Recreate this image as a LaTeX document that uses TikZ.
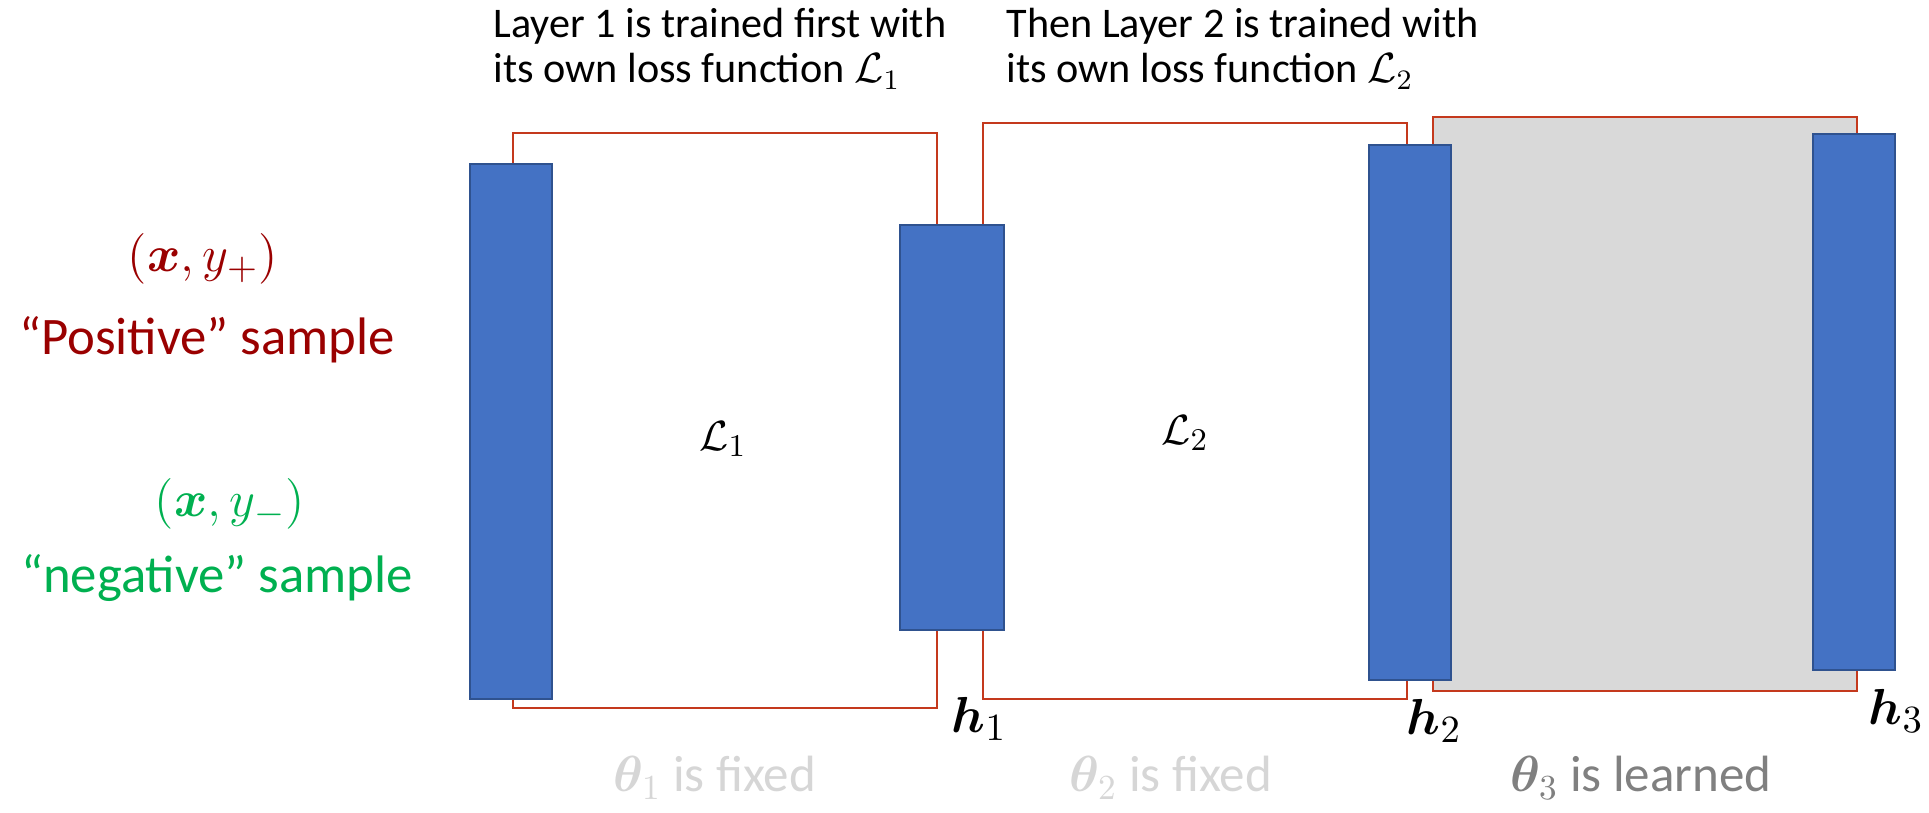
\documentclass[tikz,border=0pt]{standalone}
\usepackage{fontspec}
\setmainfont{Carlito}
\usepackage{amsmath,bm}
\definecolor{boxblue}{HTML}{4472C4}
\definecolor{boxedge}{HTML}{2F528F}
\definecolor{framered}{HTML}{C4391D}
\definecolor{learngray}{HTML}{D9D9D9}
\definecolor{posred}{HTML}{9A0000}
\definecolor{neggreen}{HTML}{00B050}
\definecolor{fixedgray}{HTML}{D6D6D6}
\definecolor{learnedtext}{HTML}{808080}
\tikzset{
  layerbar/.style={draw=boxedge, fill=boxblue, line width=0.6pt},
  lossframe/.style={draw=framered, line width=0.7pt},
  note/.style={font=\fontsize{12}{13}\selectfont, align=left, anchor=base west, inner sep=0pt},
  sample/.style={font=\fontsize{15}{18}\selectfont, anchor=base, inner sep=0pt},
  hidden/.style={font=\fontsize{15}{18}\selectfont, anchor=base west, inner sep=0pt},
  status/.style={font=\fontsize{14.5}{17}\selectfont, anchor=base west, inner sep=0pt},
}
\begin{document}
\begin{tikzpicture}[x=0.01cm, y=-0.01cm]
\useasboundingbox (0,0) rectangle (1929,813);

% loss frames around each layer
\draw[lossframe] (513,133) rectangle (937,708);
\draw[lossframe] (983,123) rectangle (1407,699);
\draw[lossframe, fill=learngray] (1433,117) rectangle (1857,691);

% activation bars
\draw[layerbar] (470,164) rectangle (552,699);
\draw[layerbar] (900,225) rectangle (1004,630);
\draw[layerbar] (1369,145) rectangle (1451,680);
\draw[layerbar] (1813,134) rectangle (1895,670);

% top notes (anchored at the baseline of their second line)
\node[note] (n1) at (493,83) {Layer 1 is trained first with\\its own loss function $\mathcal{L}_1$};
\node[note] (n2) at (1006,83) {Then Layer 2 is trained with\\its own loss function $\mathcal{L}_2$};

% losses
\node[font=\fontsize{13}{15}\selectfont] (l1) at (723,439) {$\mathcal{L}_1$};
\node[font=\fontsize{13}{15}\selectfont] (l2) at (1185,433) {$\mathcal{L}_2$};

% samples
\node[sample, text=posred] (pm) at (203,272) {$(\bm{x},y_{+})$};
\node[sample, text=posred] (pt) at (207,355) {“Positive” sample};
\node[sample, text=neggreen] (nm) at (230,517) {$(\bm{x},y_{-})$};
\node[sample, text=neggreen] (nt) at (217,593) {“negative” sample};

% hidden representations
\node[hidden] (h1) at (951,733) {$\bm{h}_1$};
\node[hidden] (h2) at (1406,735) {$\bm{h}_2$};
\node[hidden] (h3) at (1868,725) {$\bm{h}_3$};

% parameter status
\node[status, text=fixedgray] (t1) at (613,792) {$\bm{\theta}_1$ is fixed};
\node[status, text=fixedgray] (t2) at (1069,792) {$\bm{\theta}_2$ is fixed};
\node[status, text=learnedtext] (t3) at (1510,792) {$\bm{\theta}_3$ is learned};
\end{tikzpicture}
\end{document}
